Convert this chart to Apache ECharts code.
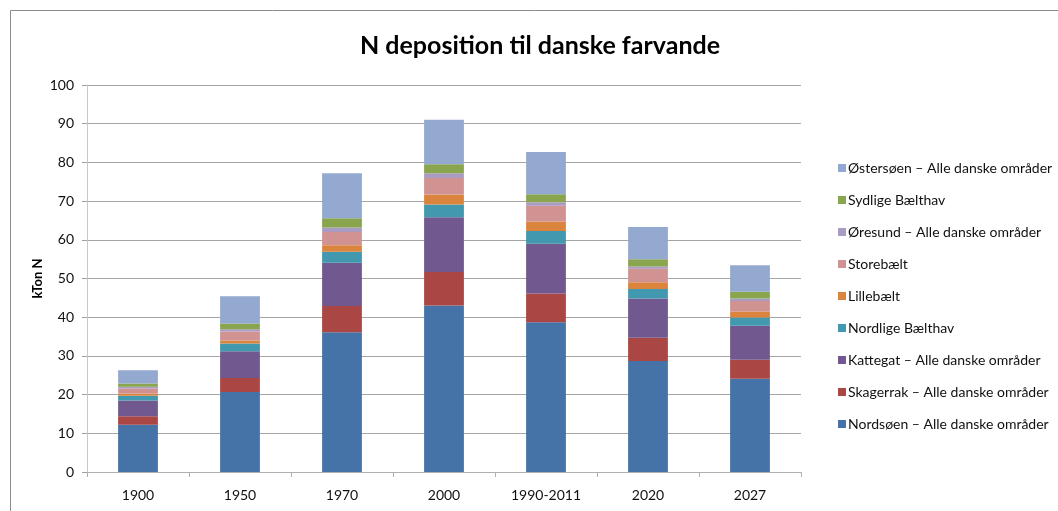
<!DOCTYPE html>
<html>
<head>
<meta charset="utf-8">
<script src="https://cdn.jsdelivr.net/npm/echarts@6/dist/echarts.min.js"></script>
<style>
  html, body { margin: 0; padding: 0; background: #fff; }
  #chart { width: 1058px; height: 511px; }
</style>
</head>
<body>
<div id="chart"></div>
<script>
  // categories and series values (kTon N)
  const categories = ['1900', '1950', '1970', '2000', '1990-2011', '2020', '2027']
  const nordsoen = [12.2, 20.7, 36.1, 43.0, 38.7, 28.7, 24.1]
  const skagerrak = [2.2, 3.6, 6.8, 8.7, 7.4, 6.0, 4.9]
  const kattegat = [4.1, 6.9, 11.2, 14.1, 12.9, 10.1, 8.8]
  const nordligeBaelthav = [1.2, 2.0, 2.8, 3.3, 3.3, 2.5, 2.1]
  const lillebaelt = [0.6, 0.8, 1.7, 2.6, 2.4, 1.7, 1.6]
  const storebaelt = [1.3, 2.3, 3.4, 4.3, 4.1, 3.5, 2.7]
  const oresund = [0.4, 0.6, 1.2, 1.2, 0.9, 0.6, 0.6]
  const sydligeBaelthav = [0.9, 1.5, 2.4, 2.3, 2.1, 1.9, 1.8]
  const ostersoen = [3.4, 7.0, 11.6, 11.5, 10.9, 8.3, 6.8]
  const yTicks = [0, 10, 20, 30, 40, 50, 60, 70, 80, 90, 100]

  const seriesDefs = [
    { name: 'Nordsøen – Alle danske områder', data: nordsoen, color: '#4572A7' },
    { name: 'Skagerrak – Alle danske områder', data: skagerrak, color: '#AA4643' },
    { name: 'Kattegat – Alle danske områder', data: kattegat, color: '#71588F' },
    { name: 'Nordlige Bælthav', data: nordligeBaelthav, color: '#4198AF' },
    { name: 'Lillebælt', data: lillebaelt, color: '#DB843D' },
    { name: 'Storebælt', data: storebaelt, color: '#D09392' },
    { name: 'Øresund – Alle danske områder', data: oresund, color: '#A99BC1' },
    { name: 'Sydlige Bælthav', data: sydligeBaelthav, color: '#89A54E' },
    { name: 'Østersøen – Alle danske områder', data: ostersoen, color: '#93A9CF' }
  ]

  const font = 'Lato, "Open Sans", sans-serif'
  const chart = echarts.init(document.getElementById('chart'))

  chart.setOption({
    animation: false,
    textStyle: { fontFamily: font },
    graphic: [{
      type: 'rect',
      shape: { x: 10.5, y: 10.5, width: 1200, height: 700 },
      style: { fill: 'none', stroke: '#8c8c8c', lineWidth: 1 },
      silent: true,
      z: -1
    }],
    title: {
      text: 'N deposition til danske farvande',
      left: 535,
      textAlign: 'center',
      top: 28,
      textStyle: { fontFamily: font, fontSize: 25, fontWeight: 'bold', color: '#000' }
    },
    legend: {
      orient: 'vertical',
      left: 833,
      top: 155,
      itemWidth: 8,
      itemHeight: 8,
      itemGap: 16,
      icon: 'rect',
      data: seriesDefs.map(s => s.name).reverse(),
      textStyle: { fontFamily: font, fontSize: 14, lineHeight: 16, color: '#111', padding: [0, 0, 0, -3] }
    },
    grid: { left: 87, right: 257, top: 85, bottom: 39 },
    xAxis: {
      type: 'category',
      data: categories,
      axisLine: { lineStyle: { color: '#b0b0b0' } },
      axisTick: { show: true, length: 5, alignWithLabel: false, lineStyle: { color: '#b0b0b0' } },
      axisLabel: { fontSize: 14, color: '#111', margin: 16, interval: 0 }
    },
    yAxis: {
      type: 'value',
      min: yTicks[0],
      max: yTicks[yTicks.length - 1],
      interval: 10,
      name: 'kTon N',
      nameLocation: 'middle',
      nameGap: 43,
      nameMoveOverlap: false,
      nameRotate: 90,
      nameTextStyle: { fontFamily: font, fontSize: 13, fontWeight: 'bold', color: '#000' },
      axisLine: { show: true, lineStyle: { color: '#c8c8c8' } },
      axisTick: { show: true, length: 5, lineStyle: { color: '#a0a0a0' } },
      axisLabel: { fontSize: 14, color: '#111', margin: 13 },
      splitLine: { lineStyle: { color: '#a6a6a6' } }
    },
    series: seriesDefs.map(s => ({
      name: s.name,
      type: 'bar',
      stack: 'total',
      barWidth: '39%',
      data: s.data,
      itemStyle: { color: s.color }
    }))
  })
</script>
</body>
</html>
